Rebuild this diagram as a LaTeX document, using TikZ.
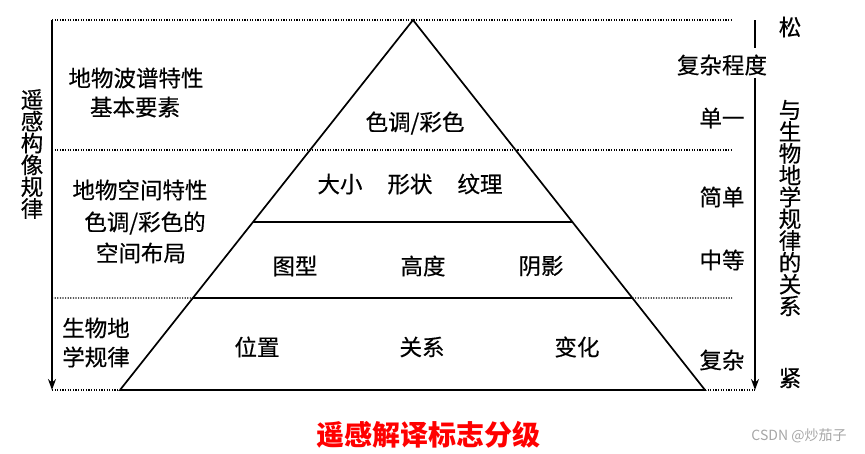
\documentclass[tikz,border=0pt]{standalone}
\usepackage{fontspec}
\usepackage{tikz}
\usetikzlibrary{arrows.meta,calc}
\newfontfamily\cjk[FakeBold=0.4]{Noto Sans CJK SC}
\newfontfamily\cjkplain{Noto Sans CJK SC}

\tikzset{
    pyrline/.style={line width=1.7pt, black, line join=miter},
    dotline/.style={line width=1.2pt, dash pattern=on 1.2pt off 1.4pt},
    sidearrow/.style={line width=1.5pt, -{Stealth[length=11pt,width=8pt]}},
    lbl/.style={font=\cjk\fontsize{22.5}{21.8}\selectfont, inner sep=0pt, align=center}
}

\begin{document}
\begin{tikzpicture}[x=1pt, y=-1pt]

\useasboundingbox (0,0) rectangle (865,453);

% ---------------- PIRAMIDE ----------------

% Vertexs
\coordinate (apex) at (413,20);
\coordinate (bl) at (120,390);
\coordinate (br) at (705,390);

% Contorn
\draw[
    pyrline
] (bl) -- (apex) -- (br) -- cycle;

% Franges interiors
\coordinate (l2) at ($(apex)!0.546!(bl)$);
\coordinate (r2) at ($(apex)!0.546!(br)$);
\coordinate (l3) at ($(apex)!0.7514!(bl)$);
\coordinate (r3) at ($(apex)!0.7514!(br)$);

\draw[pyrline] (l2) -- (r2);
\draw[pyrline] (l3) -- (r3);


% ---------------- LINIES PUNTEJADES ----------------

\coordinate (lefttop) at (52,20);
\coordinate (leftbot) at (52,390);
\coordinate (righttop) at (755,20);
\coordinate (rightbot) at (755,390);

\draw[dotline] (lefttop) -- (732,20);
\draw[dotline] (52,150) -- (732,150);
\draw[dotline] (52,298) -- (l3);
\draw[dotline] (r3) -- (732,298);
\draw[dotline] (leftbot) -- (bl);
\draw[dotline] (br) -- (rightbot);


% ---------------- FLETXES ----------------

\draw[
    sidearrow
] (lefttop) -- (leftbot);

\draw[
    line width=1.5pt
] (righttop) -- (755,48);

\draw[
    sidearrow
] (755,78) -- (rightbot);


% ---------------- TEXTOS ESQUERRA ----------------

\node[lbl] (rsrule) at (32,154) {遥\\感\\构\\像\\规\\律};

\node[lbl] (spectral) at (136,78) {地物波谱特性};
\node[lbl] (basic) at (135,107) {基本要素};

\node[lbl] (spatial) at (140,190) {地物空间特性};
\node[lbl] (tonecol) at (145,223) {色调/彩色的};
\node[lbl] (layout) at (141,253) {空间布局};

\node[lbl] (bio) at (96,328) {生物地};
\node[lbl] (geo) at (96,357) {学规律};


% ---------------- TEXTOS PIRAMIDE ----------------

\node[lbl] (tone) at (415,123) {色调/彩色};

\node[lbl] (size) at (340,184) {大小};
\node[lbl] (shape) at (410,184) {形状};
\node[lbl] (texture) at (480,184) {纹理};

\node[lbl] (pattern) at (295,266) {图型};
\node[lbl] (height) at (423,266) {高度};
\node[lbl] (shadow) at (541,266) {阴影};

\node[lbl] (position) at (257,347) {位置};
\node[lbl] (relation) at (422,347) {关系};
\node[lbl] (change) at (577,347) {变化};


% ---------------- TEXTOS DRETA ----------------

\node[lbl] (complexity) at (722,65) {复杂程度};
\node[lbl] (single) at (722,118) {单一};
\node[lbl] (simple) at (722,197) {简单};
\node[lbl] (medium) at (722,260) {中等};
\node[lbl] (complex) at (722,360) {复杂};

\node[lbl] (loose) at (790,27) {松};
\node[lbl] (tight) at (790,378) {紧};
\node[lbl] (biorel) at (790,208) {与\\生\\物\\地\\学\\规\\律\\的\\关\\系};


% ---------------- TITOL ----------------

\node[
    font=\cjkplain\bfseries\fontsize{28}{30}\selectfont,
    red,
    inner sep=0pt
] (title) at (428,435) {遥感解译标志分级};

\node[
    font=\cjkplain\fontsize{14}{16}\selectfont,
    gray!70,
    inner sep=0pt
] (mark) at (799,436) {CSDN @炒茄子};

\end{tikzpicture}
\end{document}
